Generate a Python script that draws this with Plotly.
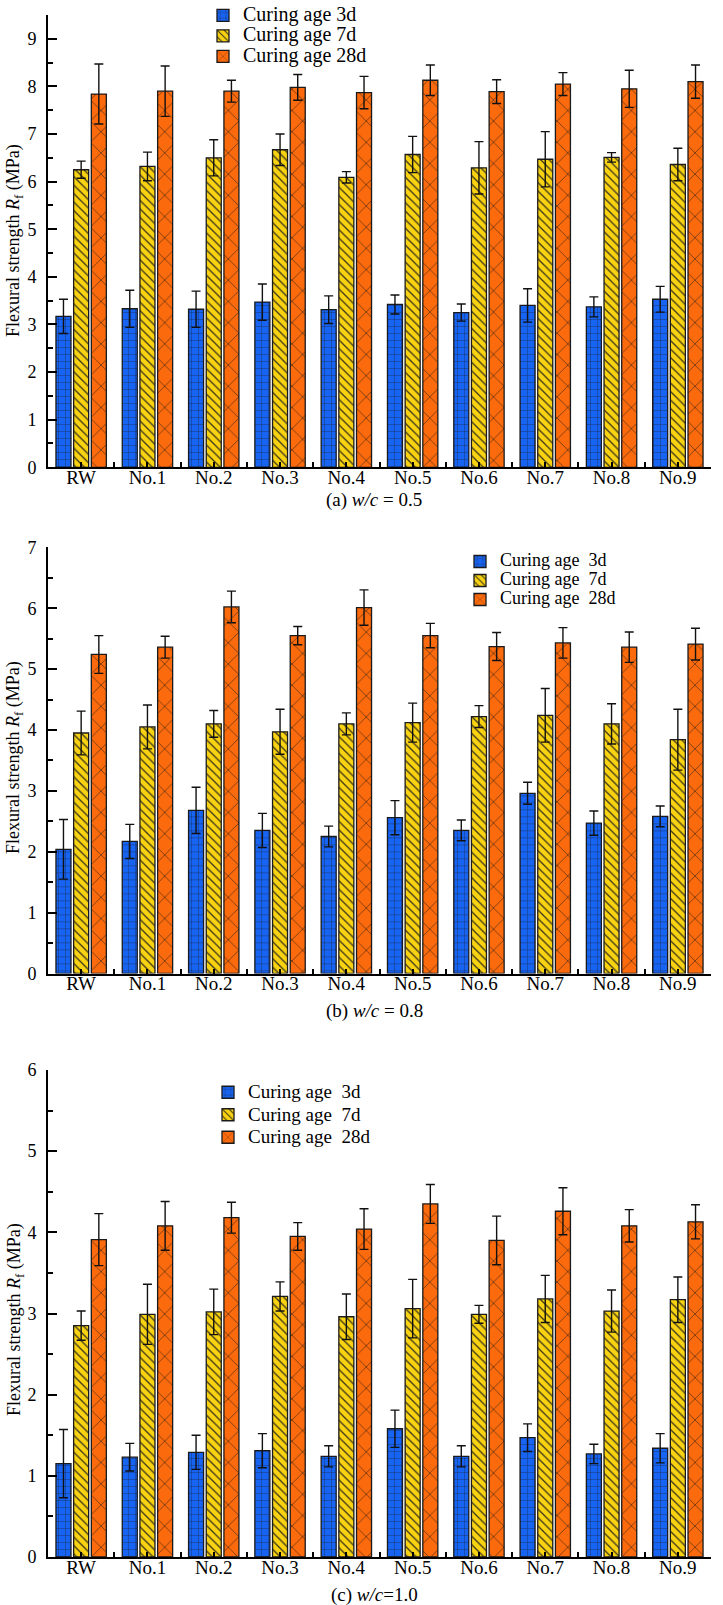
import plotly.graph_objects as go

categories = ["RW", "No.1", "No.2", "No.3", "No.4", "No.5", "No.6", "No.7", "No.8", "No.9"]

# Panel (a) w/c = 0.5
a_3d = [3.17, 3.33, 3.32, 3.47, 3.31, 3.42, 3.25, 3.40, 3.37, 3.53]
a_3d_err = [0.36, 0.39, 0.38, 0.38, 0.29, 0.20, 0.18, 0.35, 0.21, 0.27]
a_7d = [6.25, 6.32, 6.50, 6.67, 6.09, 6.57, 6.29, 6.47, 6.51, 6.36]
a_7d_err = [0.18, 0.30, 0.38, 0.33, 0.12, 0.38, 0.55, 0.58, 0.10, 0.34]
a_28d = [7.84, 7.90, 7.90, 7.98, 7.87, 8.13, 7.89, 8.05, 7.95, 8.10]
a_28d_err = [0.63, 0.53, 0.23, 0.27, 0.34, 0.32, 0.25, 0.24, 0.39, 0.35]

# Panel (b) w/c = 0.8
b_3d = [2.04, 2.17, 2.68, 2.35, 2.25, 2.56, 2.35, 2.96, 2.47, 2.58]
b_3d_err = [0.49, 0.28, 0.38, 0.28, 0.17, 0.28, 0.17, 0.18, 0.20, 0.17]
b_7d = [3.95, 4.05, 4.10, 3.97, 4.10, 4.12, 4.22, 4.24, 4.10, 3.84]
b_7d_err = [0.36, 0.36, 0.22, 0.37, 0.18, 0.32, 0.18, 0.44, 0.33, 0.50]
b_28d = [5.24, 5.36, 6.02, 5.55, 6.01, 5.55, 5.37, 5.43, 5.36, 5.41]
b_28d_err = [0.31, 0.18, 0.26, 0.15, 0.29, 0.20, 0.23, 0.25, 0.25, 0.26]

# Panel (c) w/c = 1.0
c_3d = [1.15, 1.23, 1.29, 1.31, 1.24, 1.58, 1.24, 1.47, 1.27, 1.34]
c_3d_err = [0.42, 0.17, 0.21, 0.21, 0.13, 0.23, 0.13, 0.17, 0.12, 0.18]
c_7d = [2.85, 2.99, 3.02, 3.21, 2.96, 3.06, 2.99, 3.18, 3.03, 3.17]
c_7d_err = [0.18, 0.37, 0.28, 0.18, 0.28, 0.36, 0.11, 0.29, 0.26, 0.28]
c_28d = [3.91, 4.08, 4.18, 3.95, 4.04, 4.35, 3.90, 4.26, 4.08, 4.13]
c_28d_err = [0.32, 0.30, 0.19, 0.17, 0.25, 0.24, 0.30, 0.29, 0.20, 0.21]

names_a = ["Curing age 3d", "Curing age 7d", "Curing age 28d"]
names_bc = ["Curing age\u00a0 3d", "Curing age\u00a0 7d", "Curing age\u00a0 28d"]
captions = ["(a) <i>w/c</i> = 0.5", "(b) <i>w/c</i> = 0.8", "(c) <i>w/c</i>=1.0"]
y_maxes = [9.5, 7, 6]

W, H = 723, 1605
FONT = "Liberation Serif"
fills = ["#1763f2", "#f9d312", "#fb6a0c"]
shapes_p = ["+", "\\", "x"]
psize = [7, 6, 15]
psol = [0.1, 0.22, 0.08]

def py(p):
    return 1 - p / H

x_dom = [48 / W, 711 / W]
# leg_font controls entry spacing; name_size is the drawn text size
panels = [
    dict(top=15, bot=467.3, lab_y=500, title_y=241, leg_x=203, leg_y=0, leg_font=13.5, name_size=20),
    dict(top=547.3, bot=973.5, lab_y=1011, title_y=758, leg_x=460, leg_y=547, leg_font=12, name_size=18),
    dict(top=1070, bot=1557, lab_y=1595, title_y=1320, leg_x=208, leg_y=1076, leg_font=15, name_size=19),
]
data = [
    ([a_3d, a_7d, a_28d], [a_3d_err, a_7d_err, a_28d_err], names_a),
    ([b_3d, b_7d, b_28d], [b_3d_err, b_7d_err, b_28d_err], names_bc),
    ([c_3d, c_7d, c_28d], [c_3d_err, c_7d_err, c_28d_err], names_bc),
]

xs = list(range(len(categories)))
fig = go.Figure()
annotations = []
for i, (vals, errs, names) in enumerate(data):
    n = i + 1
    p = panels[i]
    xa = "x" if n == 1 else f"x{n}"
    ya = "y" if n == 1 else f"y{n}"
    lg = "legend" if n == 1 else f"legend{n}"
    for k in range(3):
        fig.add_trace(go.Bar(
            x=xs, y=vals[k],
            name=f'<span style="font-size:{p["name_size"]}px">{names[k]}</span>',
            xaxis=xa, yaxis=ya, legend=lg, offsetgroup=str(k),
            marker=dict(color=fills[k], line=dict(color="#1a1a1a", width=1.3),
                        pattern=dict(shape=shapes_p[k], fillmode="overlay",
                                     fgcolor="#1a1a1a", fgopacity=0.85,
                                     size=psize[k], solidity=psol[k])),
            error_y=dict(type="data", array=errs[k], visible=True,
                         color="#111111", thickness=1.4, width=4.5),
        ))
    axkey_x = "xaxis" if n == 1 else f"xaxis{n}"
    axkey_y = "yaxis" if n == 1 else f"yaxis{n}"
    fig.update_layout(**{
        axkey_x: dict(domain=x_dom, anchor=ya, range=[-0.5, len(categories) - 0.5],
                      tickmode="array", tickvals=xs, ticktext=categories,
                      ticks="inside", ticklen=5, tickwidth=1.5, tickcolor="black",
                      minor=dict(ticks="inside", ticklen=5, tickwidth=1.5, tickcolor="black",
                                 tick0=0.5, dtick=1, showgrid=False),
                      showline=True, linewidth=2, linecolor="black", mirror=False,
                      showgrid=False, zeroline=False, ticklabelstandoff=-8,
                      tickfont=dict(family=FONT, size=19, color="black")),
        axkey_y: dict(domain=[py(p["bot"]), py(p["top"])], anchor=xa,
                      range=[0, y_maxes[i]], dtick=1, tick0=0,
                      ticks="inside", ticklen=9, tickwidth=1.5, tickcolor="black",
                      minor=dict(ticks="inside", ticklen=5, tickwidth=1.5, tickcolor="black",
                                 dtick=0.5, showgrid=False),
                      showline=True, linewidth=2, linecolor="black", mirror=False,
                      showgrid=False, zeroline=False, ticklabelstandoff=6,
                      tickfont=dict(family=FONT, size=18, color="black")),
        lg: dict(x=p["leg_x"] / W, y=py(p["leg_y"]), xanchor="left", yanchor="top",
                 bgcolor="rgba(0,0,0,0)", borderwidth=0, traceorder="normal",
                 font=dict(family=FONT, size=p["leg_font"], color="black"),
                 itemwidth=30),
    })
    annotations.append(dict(text="Flexural strength <i>R</i><sub>f</sub> (MPa)", textangle=-90,
                            x=15 / W, y=py(p["title_y"]), xref="paper", yref="paper",
                            xanchor="center", yanchor="middle", showarrow=False,
                            font=dict(family=FONT, size=18, color="black")))
    annotations.append(dict(text=captions[i], x=374 / W, y=py(p["lab_y"]), xref="paper", yref="paper",
                            xanchor="center", yanchor="middle", showarrow=False,
                            font=dict(family=FONT, size=19, color="black")))

fig.update_layout(
    width=W, height=H, margin=dict(l=0, r=0, t=0, b=0, autoexpand=False),
    paper_bgcolor="white", plot_bgcolor="white",
    font=dict(family=FONT, color="black"),
    barmode="group", bargap=0.2, bargroupgap=0.15,
    annotations=annotations, showlegend=True,
)
fig.write_html("out.html", config={"displayModeBar": False},
               post_script="document.body.style.margin='0px';")
